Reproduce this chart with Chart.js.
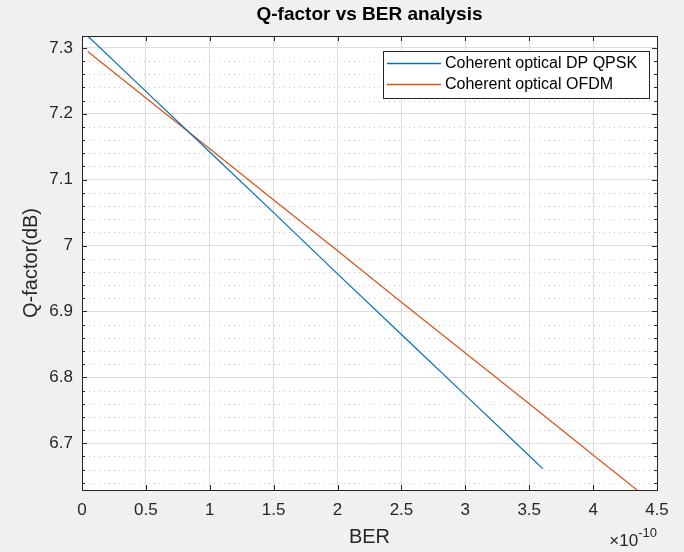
<!DOCTYPE html>
<html>
<head>
<meta charset="utf-8">
<script src="https://cdn.jsdelivr.net/npm/chart.js@4.4.1/dist/chart.umd.min.js"></script>
<style>
  html, body { margin: 0; padding: 0; background: #f0f0f0; }
  #wrap { width: 684px; height: 552px; }
</style>
</head>
<body>
<div id="wrap"><canvas id="c" width="684" height="552"></canvas></div>
<script>
// ---- data (BER in units of 1e-10) ----
const chartTitle = "Q-factor vs BER analysis";
const xLabel = "BER";
const yLabel = "Q-factor(dB)";
const xExponent = "-10";
const seriesNames = ["Coherent optical DP QPSK", "Coherent optical OFDM"];
const qpskBER = [0.045, 0.5, 1.0, 1.5, 2.0, 2.5, 3.0, 3.5, 3.607];
const qpskQ   = [7.318, 7.234, 7.142, 7.050, 6.957, 6.865, 6.773, 6.681, 6.661];
const ofdmBER = [0.045, 0.5, 1.0, 1.5, 2.0, 2.5, 3.0, 3.5, 4.0, 4.35];
const ofdmQ   = [7.2944, 7.224, 7.147, 7.069, 6.992, 6.914, 6.837, 6.760, 6.682, 6.628];
const xTicks = [0, 0.5, 1, 1.5, 2, 2.5, 3, 3.5, 4, 4.5];
const yTicks = [6.7, 6.8, 6.9, 7.0, 7.1, 7.2, 7.3];
const xRange = [0, 4.5];
const yRange = [6.629, 7.318];

const colors = ["#0072BD", "#D95319"];
const axisColor = "#262626";
const FONT = "'Liberation Sans', Arial, Helvetica, sans-serif";

function pts(xs, ys) { return xs.map((x, i) => ({ x: x, y: ys[i] })); }

const matlabPlugin = {
  id: 'matlab',
  beforeDraw(chart) {
    const { ctx, chartArea: a } = chart;
    ctx.save();
    ctx.fillStyle = '#f0f0f0';
    ctx.fillRect(0, 0, chart.width, chart.height);
    ctx.fillStyle = '#ffffff';
    ctx.fillRect(a.left, a.top, a.right - a.left, a.bottom - a.top);
    ctx.restore();
  },
  beforeDatasetsDraw(chart) {
    // minor dotted y grid
    const { ctx, chartArea: a, scales } = chart;
    const ys = scales.y;
    const step = (yTicks[1] - yTicks[0]) / 5;
    ctx.save();
    ctx.strokeStyle = '#c8c8c8';
    ctx.lineWidth = 1;
    ctx.setLineDash([1, 4]);
    for (let k = -10; k < 60; k++) {
      if (k % 5 === 0) continue;
      const v = yTicks[0] + k * step;
      if (v <= yRange[0] || v >= yRange[1]) continue;
      const py = Math.round(ys.getPixelForValue(v)) + 0.5;
      ctx.beginPath(); ctx.moveTo(a.left + 2, py); ctx.lineTo(a.right, py); ctx.stroke();
    }
    ctx.restore();
  },
  afterDraw(chart) {
    const { ctx, chartArea: a, scales } = chart;
    const xs = scales.x, ys = scales.y;
    ctx.save();
    // box
    ctx.strokeStyle = axisColor;
    ctx.lineWidth = 1;
    ctx.strokeRect(Math.round(a.left) + 0.5, Math.round(a.top) + 0.5,
                   Math.round(a.right - a.left), Math.round(a.bottom - a.top));
    // major ticks
    ctx.beginPath();
    xTicks.forEach(v => {
      const px = Math.round(xs.getPixelForValue(v)) + 0.5;
      ctx.moveTo(px, a.bottom); ctx.lineTo(px, a.bottom - 5);
      ctx.moveTo(px, a.top); ctx.lineTo(px, a.top + 5);
    });
    yTicks.forEach(v => {
      const py = Math.round(ys.getPixelForValue(v)) + 0.5;
      ctx.moveTo(a.left, py); ctx.lineTo(a.left + 5, py);
      ctx.moveTo(a.right, py); ctx.lineTo(a.right - 5, py);
    });
    // minor y ticks
    const step = (yTicks[1] - yTicks[0]) / 5;
    for (let k = -10; k < 60; k++) {
      if (k % 5 === 0) continue;
      const v = yTicks[0] + k * step;
      if (v <= yRange[0] || v >= yRange[1]) continue;
      const py = Math.round(ys.getPixelForValue(v)) + 0.5;
      ctx.moveTo(a.left, py); ctx.lineTo(a.left + 3, py);
      ctx.moveTo(a.right, py); ctx.lineTo(a.right - 3, py);
    }
    ctx.stroke();

    // title
    const cx = (a.left + a.right) / 2;
    ctx.fillStyle = '#000';
    ctx.textAlign = 'center';
    ctx.textBaseline = 'middle';
    ctx.font = "bold 19px " + FONT;
    ctx.fillText(chartTitle, cx, 15);
    // axis labels
    ctx.fillStyle = axisColor;
    ctx.font = "20px " + FONT;
    ctx.fillText(xLabel, cx, 537);
    ctx.save();
    ctx.translate(31, (a.top + a.bottom) / 2);
    ctx.rotate(-Math.PI / 2);
    ctx.fillText(yLabel, 0, 0);
    ctx.restore();
    // exponent
    ctx.textAlign = 'left';
    ctx.textBaseline = 'alphabetic';
    ctx.font = "17px " + FONT;
    const base = "\u00d710";
    const bw = ctx.measureText(base).width;
    ctx.font = "13px " + FONT;
    const sw = ctx.measureText(xExponent).width;
    const ex0 = a.right - bw - sw;
    ctx.font = "17px " + FONT;
    ctx.fillText(base, ex0, 546);
    ctx.font = "13px " + FONT;
    ctx.fillText(xExponent, ex0 + bw, 537);

    // legend
    const L = 383, T = 51, R = 649, B = 98;
    ctx.fillStyle = '#fff';
    ctx.fillRect(L, T, R - L, B - T);
    ctx.strokeStyle = axisColor;
    ctx.strokeRect(L + 0.5, T + 0.5, R - L, B - T);
    ctx.font = "16px " + FONT;
    ctx.textBaseline = 'middle';
    const rows = [63, 84];
    chart.data.datasets.forEach((ds, i) => {
      ctx.strokeStyle = ds.borderColor;
      ctx.lineWidth = 1.3;
      ctx.beginPath();
      ctx.moveTo(387, rows[i] + 0.5); ctx.lineTo(441, rows[i] + 0.5);
      ctx.stroke();
      ctx.fillStyle = '#000';
      ctx.fillText(ds.label, 445, rows[i] + 1);
    });
    ctx.restore();
  }
};

new Chart(document.getElementById('c'), {
  type: 'line',
  data: {
    datasets: [
      { label: seriesNames[0], data: pts(qpskBER, qpskQ), borderColor: colors[0], borderWidth: 1.2, pointRadius: 0, fill: false, tension: 0 },
      { label: seriesNames[1], data: pts(ofdmBER, ofdmQ), borderColor: colors[1], borderWidth: 1.2, pointRadius: 0, fill: false, tension: 0 }
    ]
  },
  plugins: [matlabPlugin],
  options: {
    responsive: false,
    animation: false,
    layout: { padding: { top: 36, right: 27, left: 0, bottom: 0 } },
    plugins: { legend: { display: false }, title: { display: false }, tooltip: { enabled: false } },
    scales: {
      x: {
        type: 'linear', min: xRange[0], max: xRange[1],
        afterBuildTicks: s => { s.ticks = xTicks.map(v => ({ value: v })); },
        afterFit: s => { s.height = 62; },
        ticks: { color: axisColor, font: { family: FONT, size: 17 }, padding: 10, maxRotation: 0, autoSkip: false,
                 callback: v => String(v) },
        grid: { color: '#dedede', drawTicks: false, lineWidth: 1 },
        border: { display: false }
      },
      y: {
        type: 'linear', min: yRange[0], max: yRange[1],
        afterBuildTicks: s => { s.ticks = yTicks.map(v => ({ value: v })); },
        afterFit: s => { s.width = 82; },
        ticks: { color: axisColor, font: { family: FONT, size: 17 }, padding: 9, autoSkip: false,
                 callback: v => String(Math.round(v * 10) / 10) },
        grid: { color: '#dedede', drawTicks: false, lineWidth: 1 },
        border: { display: false }
      }
    }
  }
});
</script>
</body>
</html>
